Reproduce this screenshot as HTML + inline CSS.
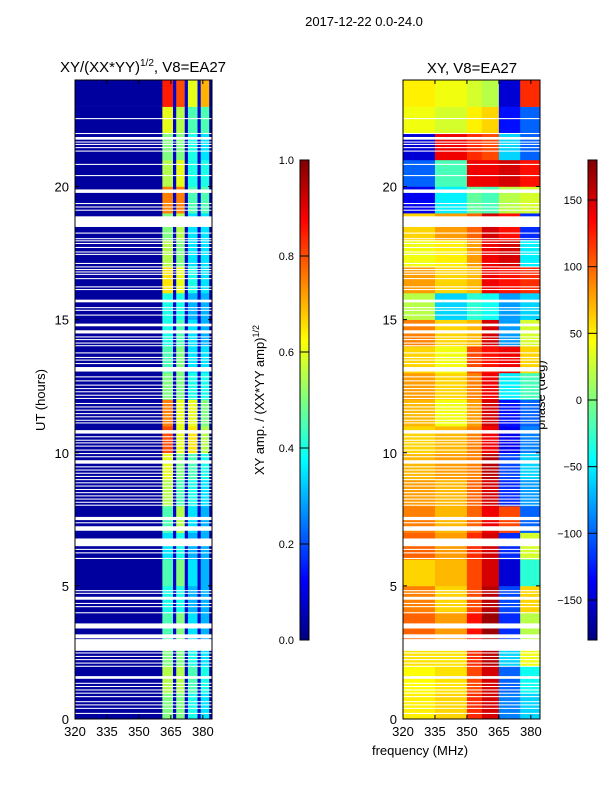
<!DOCTYPE html>
<html><head><meta charset="utf-8"><style>
body{margin:0;background:#fff;}
svg{display:block;font-family:"Liberation Sans",sans-serif;}
</style></head><body>
<svg id="fig" width="600" height="800" viewBox="0 0 600 800">
<defs>
<linearGradient id="jetv" x1="0" y1="1" x2="0" y2="0">
<stop offset="0" stop-color="#000080"/><stop offset="0.125" stop-color="#0000ff"/><stop offset="0.375" stop-color="#00ffff"/><stop offset="0.625" stop-color="#ffff00"/><stop offset="0.875" stop-color="#ff0000"/><stop offset="1" stop-color="#800000"/>
</linearGradient>
</defs>
<text x="364" y="26" font-size="13" text-anchor="middle">2017-12-22 0.0-24.0</text>
<text x="143" y="72" font-size="15" text-anchor="middle">XY/(XX*YY)<tspan font-size="10" dy="-6">1/2</tspan><tspan dy="6">, V8=EA27</tspan></text>
<text x="472" y="73" font-size="15" text-anchor="middle">XY, V8=EA27</text>
<text transform="translate(45,400) rotate(-90)" font-size="13" text-anchor="middle">UT (hours)</text>
<text x="420" y="755" font-size="13" text-anchor="middle">frequency (MHz)</text>
<text transform="translate(264,400) rotate(-90)" font-size="13" text-anchor="middle">XY amp. / (XX*YY amp)<tspan font-size="9" dy="-5">1/2</tspan></text>
<text transform="translate(545,395) rotate(-90)" font-size="13" text-anchor="middle">phase (deg)</text>
<g id="g1"></g><g id="g2"></g><g id="g3"></g>
</svg>
<script>
// ---- data ----
const hourBlocks = [0,1,2,3,4,5,6,7,8,9,10,11,12,13,14,15,16,17,18,19,20,21,22,23];
const ampBandEdges = [[320,361],[361,366],[366,367.5],[367.5,371.5],[371.5,373],[373,377.5],[377.5,379],[379,383],[383,384]];
const ampA = [0.5,0.55,0.5,0.45,0.4,0.45,0.35,0.45,0.55,0.6,0.8,0.75,0.5,0.45,0.4,0.4,0.65,0.55,0.5,0.75,0.55,0.5,0.6,0.85];
const ampB = [0.5,0.55,0.5,0.5,0.4,0.5,0.4,0.55,0.45,0.5,0.6,0.6,0.5,0.5,0.45,0.4,0.6,0.5,0.55,0.75,0.6,0.5,0.55,0.8];
const ampC = [0.4,0.45,0.4,0.35,0.3,0.35,0.3,0.35,0.4,0.45,0.65,0.6,0.4,0.35,0.35,0.3,0.4,0.35,0.35,0.45,0.4,0.4,0.45,0.6];
const ampD = [0.35,0.4,0.35,0.3,0.3,0.3,0.3,0.3,0.35,0.4,0.55,0.5,0.4,0.35,0.3,0.3,0.35,0.35,0.35,0.45,0.4,0.35,0.45,0.7];
const ampBg = 0.03, ampSep = 0.08;
const phaseBandEdges = [[320,335],[335,350],[350,357],[357,365],[365,375],[375,384]];
const phase = [
[50,60,120,150,-90,-60],[45,55,110,150,-100,-40],[55,55,120,160,-60,40],[100,80,130,170,-120,20],
[90,60,110,160,-110,60],[60,70,110,150,-150,-30],[100,80,120,150,-120,30],[90,70,100,140,110,-100],
[80,70,100,150,-120,-80],[70,80,90,160,-110,-60],[60,70,90,140,-140,-90],[70,40,80,150,-130,-100],
[80,60,90,140,-50,-20],[60,40,110,130,140,60],[90,60,70,150,-80,30],[20,-60,-30,-40,-80,-60],
[80,60,70,140,130,120],[40,50,80,140,150,-50],[60,80,100,150,130,-120],[-140,-50,-10,-20,20,30],
[-100,-20,140,140,150,130],[-150,140,120,110,-60,-100],[40,30,50,60,-130,-100],[50,40,30,20,-150,120]];
const gaps = [[22.53,22.57],[21.97,22.01],[21.76,21.86],[21.65,21.69],[21.56,21.6],[21.44,21.48],[21.31,21.35],
[20.81,20.85],[20.39,20.43],[19.76,19.89],[19.34,19.38],[19.21,19.25],[19.09,19.13],[18.48,18.88],[18.23,18.27],
[18.02,18.06],[17.94,17.98],[17.84,17.88],[17.69,17.73],[17.52,17.56],[17.43,17.47],[17.09,17.13],[16.96,17.0],
[16.86,16.9],[16.77,16.81],[16.68,16.72],[16.52,16.56],[16.21,16.25],[16.11,16.15],[15.65,15.75],[15.43,15.47],
[15.33,15.37],[15.15,15.19],[14.75,14.85],[14.48,14.6],[14.33,14.37],[14.23,14.27],[14.1,14.14],[14.0,14.04],
[13.73,13.77],[13.56,13.6],[13.46,13.5],[13.33,13.37],[13.05,13.22],[12.83,12.87],[12.68,12.72],[12.52,12.56],
[12.39,12.43],[12.27,12.31],[12.14,12.18],[12.02,12.06],[11.83,11.87],[11.7,11.74],[11.58,11.62],[11.45,11.49],
[11.33,11.37],[11.2,11.24],[11.1,11.14],[10.72,10.85],[10.58,10.62],[10.45,10.49],[10.35,10.39],[10.23,10.27],
[10.08,10.12],[9.95,9.99],[9.83,9.87],[9.59,9.72],[9.45,9.49],[9.33,9.37],[9.21,9.25],[9.09,9.13],[8.97,9.01],
[8.85,8.89],[8.73,8.77],[8.6,8.64],[8.48,8.52],[8.36,8.4],[8.24,8.28],[8.12,8.16],[8.01,8.05],[7.47,7.59],
[7.35,7.39],[7.07,7.24],[6.49,6.78],[6.35,6.39],[6.22,6.26],[6.01,6.05],[4.8,4.84],[4.7,4.74],[4.48,4.59],
[4.32,4.36],[4.2,4.24],[3.97,4.01],[3.4,3.59],[3.03,3.18],[2.56,3.0],[2.46,2.5],[2.33,2.37],[2.21,2.25],
[2.08,2.12],[1.96,2.0],[1.51,1.61],[1.32,1.36],[1.2,1.24],[1.07,1.11],[0.95,0.99],[0.82,0.86],[0.63,0.67],
[0.51,0.55],[0.38,0.42],[0.19,0.23]];
const yTicks = [0,5,10,15,20];
const xTicks = [320,335,350,365,380];
const ampCbTicks = [0.0,0.2,0.4,0.6,0.8,1.0];
const phaseCbTicks = [-150,-100,-50,0,50,100,150];

// ---- scales ----
const NS="http://www.w3.org/2000/svg";
const Y0=719, Y1=80;
const yS = h => Y0 - (h/24)*(Y0-Y1);
function xS(x0,f){ return x0 + (f-320)*(137/64.3); }
function jet(v){
  v=Math.max(0,Math.min(1,v));
  const s=[[0,0,0,128],[0.125,0,0,255],[0.375,0,255,255],[0.625,255,255,0],[0.875,255,0,0],[1,128,0,0]];
  for(let i=0;i<s.length-1;i++){ if(v<=s[i+1][0]){ const t=(v-s[i][0])/(s[i+1][0]-s[i][0]);
    return `rgb(${Math.round(s[i][1]+t*(s[i+1][1]-s[i][1]))},${Math.round(s[i][2]+t*(s[i+1][2]-s[i][2]))},${Math.round(s[i][3]+t*(s[i+1][3]-s[i][3]))})`; } }
  return "rgb(128,0,0)";
}
function mk(tag,attrs,parent){ const e=document.createElementNS(NS,tag); for(const k in attrs) e.setAttribute(k,attrs[k]); parent.appendChild(e); return e; }
function bandsFor(n){ return n==='amp-heatmap'?ampBandEdges:phaseBandEdges; }

function panel(g,x0,valueFn,name){
  const W=137;
  hourBlocks.forEach((h,i)=>{
    bandsFor(name).forEach((b,j)=>{
      const xa=xS(x0,b[0]), xb=Math.min(x0+W,xS(x0,b[1]));
      const r=mk('rect',{x:xa,y:yS(h+1),width:xb-xa+0.3,height:yS(h)-yS(h+1)+0.3,fill:valueFn(i,j)},g);
      
      
    });
  });
  gaps.forEach(gp=>{
    const r=mk('rect',{x:x0,y:yS(gp[1]),width:W,height:Math.max(1,yS(gp[0])-yS(gp[1])),fill:'#fff'},g);
    
    
  });
  const fr=mk('rect',{x:x0,y:Y1,width:W,height:Y0-Y1,fill:'none',stroke:'#000','stroke-width':1},g);
  
  
  yTicks.forEach(t=>{
    const y=yS(t);
    mk('line',{x1:x0,x2:x0+4,y1:y,y2:y,stroke:'#000'},g);
    mk('line',{x1:x0+W-4,x2:x0+W,y1:y,y2:y,stroke:'#000'},g);
    const tx=mk('text',{x:x0-6,y:y+5,'font-size':13,'text-anchor':'end'},g);
    tx.textContent=t;
    
    
  });
  xTicks.forEach(t=>{
    const x=xS(x0,t);
    mk('line',{x1:x,x2:x,y1:Y0,y2:Y0-4,stroke:'#000'},g);
    mk('line',{x1:x,x2:x,y1:Y1,y2:Y1+4,stroke:'#000'},g);
    const tx=mk('text',{x:x,y:Y0+17,'font-size':13,'text-anchor':'middle'},g);
    tx.textContent=t;
    
    
  });
}
function ampVal(i,j){
  const v=[ampBg,ampA[i],ampSep,ampB[i],ampSep,ampC[i],ampSep,ampD[i],ampBg][j];
  return jet(v);
}
function phVal(i,j){ return jet((phase[i][j]+180)/360); }

panel(document.getElementById('g1'),75,ampVal,'amp-heatmap');
panel(document.getElementById('g2'),403,phVal,'phase-heatmap');

function colorbar(g,x,lo,hi,ticks,name,fmt){
  const top=160,bot=640;
  const r=mk('rect',{x:x,y:top,width:9,height:bot-top,fill:'url(#jetv)',stroke:'#000','stroke-width':1},g);
  
  
  ticks.forEach(t=>{
    const y=bot-(t-lo)/(hi-lo)*(bot-top);
    mk('line',{x1:x,x2:x+9,y1:y,y2:y,stroke:'#000'},g);
    const tx=mk('text',{x:x-6,y:y+4,'font-size':11,'text-anchor':'end'},g);
    tx.textContent=fmt(t);
    
    
  });
}
const g3=document.getElementById('g3');
colorbar(g3,300,0,1,ampCbTicks,'amp-colorbar',t=>t.toFixed(1));
colorbar(g3,588,-180,180,phaseCbTicks,'phase-colorbar',t=>t<0?'\u2212'+(-t):String(t));
</script>
</body></html>
